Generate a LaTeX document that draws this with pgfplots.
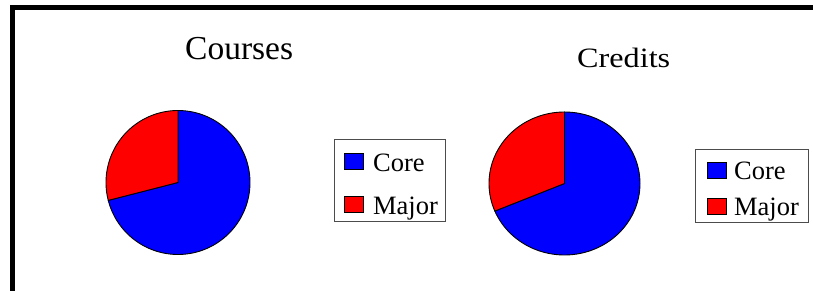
\documentclass[border=0pt]{standalone}
\usepackage{pgfplots}
\pgfplotsset{compat=1.18}
\usepackage{fontspec}
\setmainfont{Liberation Serif}

% data (shares in percent)
\def\CoursesCore{71}
\def\CoursesMajor{29}
\def\CreditsCore{68.7}
\def\CreditsMajor{31.3}

\pgfplotsset{
  pieaxis/.style={scale only axis, xmin=-1, xmax=1, ymin=-1, ymax=1,
    hide axis, clip=false, anchor=south west,
    legend cell align=left,
    legend image code/.code={\path (0pt,0pt); \draw[##1,draw=black,line width=0.6pt] (2pt,-10.5pt) rectangle (21pt,5.5pt);},
  },
  slice/.style={draw=black, line width=0.9pt, samples=150, variable=\t},
}

\begin{document}
\begin{tikzpicture}[x=1pt,y=1pt]
\useasboundingbox (0pt,0pt) rectangle (813pt,291pt);
\draw[line width=5pt, line cap=rect] (12.5pt,-20pt) -- (12.5pt,283.5pt) -- (840pt,283.5pt);

\pgfmathsetmacro\angA{90-360*(\CoursesCore/(\CoursesCore+\CoursesMajor))}
\pgfmathsetmacro\angB{90-360*(\CreditsCore/(\CreditsCore+\CreditsMajor))}

\node[anchor=base west, inner sep=0pt, font=\fontsize{33.5}{33.5}\selectfont] at (185pt,231pt) {Courses};
\node[anchor=base west, inner sep=0pt, font=\fontsize{28}{28}\selectfont, xscale=1.15] at (577pt,223pt) {Credits};

\begin{axis}[pieaxis, at={(106pt,36.5pt)}, width=144pt, height=144pt,
  legend style={at={(1.5833,0.8021)}, anchor=north west, draw=black!70, line width=0.8pt,
    font=\fontsize{26.5}{26.5}\selectfont, inner xsep=7pt, inner ysep=7.7pt, row sep=19pt,
    nodes={text height=24pt, text depth=0pt, inner sep=0pt},
    /tikz/every odd column/.append style={column sep=10pt}}]
\addplot[slice, fill=blue, domain=90:\angA] ({cos(\t)},{sin(\t)}) -- (axis cs:0,0) -- cycle;
\addlegendentry{Core}
\addplot[slice, fill=red, domain=\angA:-270] ({cos(\t)},{sin(\t)}) -- (axis cs:0,0) -- cycle;
\addlegendentry{Major}
\end{axis}

\begin{axis}[pieaxis, at={(489pt,36pt)}, width=151pt, height=143pt,
  legend style={at={(1.3642,0.7413)}, anchor=north west, draw=black!70, line width=0.8pt,
    font=\fontsize{26.5}{26.5}\selectfont, inner xsep=9pt, inner ysep=6.5pt, row sep=12pt,
    nodes={text height=24pt, text depth=0pt, inner sep=0pt},
    /tikz/every odd column/.append style={column sep=8pt}}]
\addplot[slice, fill=blue, domain=90:\angB] ({cos(\t)},{sin(\t)}) -- (axis cs:0,0) -- cycle;
\addlegendentry{Core}
\addplot[slice, fill=red, domain=\angB:-270] ({cos(\t)},{sin(\t)}) -- (axis cs:0,0) -- cycle;
\addlegendentry{Major}
\end{axis}
\end{tikzpicture}
\end{document}
